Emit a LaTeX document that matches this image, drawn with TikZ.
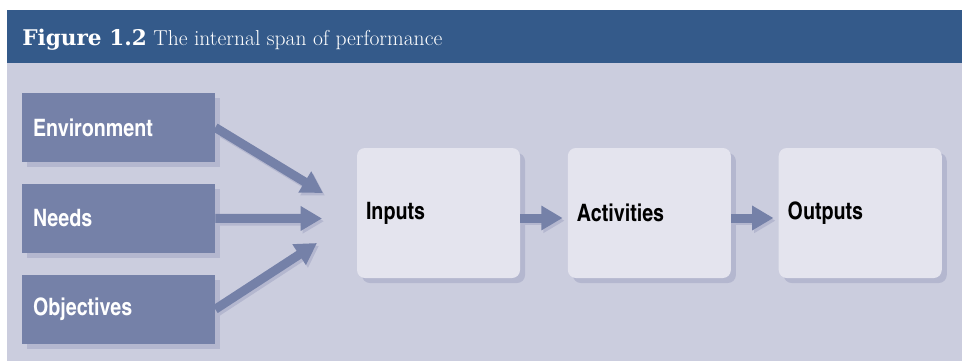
\documentclass[tikz,border=0pt]{standalone}
\usepackage{fontspec}
\newfontfamily\cnfont{texgyreheroscn}[Extension=.otf,UprightFont=*-regular,BoldFont=*-bold]
\newfontfamily\slabfont{DejaVu Serif}
\usetikzlibrary{positioning,arrows.meta,shadows}
\definecolor{headblue}{HTML}{345A8A}
\definecolor{panel}{HTML}{CBCDDE}
\definecolor{slate}{HTML}{7581A8}
\definecolor{shadowgray}{HTML}{B4B7CF}
\definecolor{pale}{HTML}{E4E4EE}
\tikzset{
  boxshadow/.style={drop shadow={shadow xshift=3.75pt,shadow yshift=-3.75pt,fill=shadowgray,opacity=1}},
  source/.style={boxshadow,fill=slate,text=white,inner xsep=8.25pt,inner ysep=0pt,
    text width=128.25pt,minimum height=51.75pt,align=left,font=\cnfont\bfseries\fontsize{18}{20}\selectfont},
  stage/.style={boxshadow,fill=pale,rounded corners=6pt,inner xsep=6.75pt,inner ysep=0pt,
    text width=108.75pt,minimum height=97.5pt,align=left,font=\cnfont\bfseries\fontsize{18}{20}\selectfont},
  fat/.style={line width=6.75pt,-{Triangle[length=16pt,width=17.5pt]}}
}
\begin{document}
\begin{tikzpicture}[x=0.75pt,y=-0.75pt,node distance=16pt and 35.5pt]
\useasboundingbox (0,0) rectangle (962,361);
\fill[headblue] (7,10) rectangle (962,63);
\fill[panel] (7,63) rectangle (962,361);
\node[anchor=base west,text=white,inner sep=0pt,font=\fontsize{16.2}{19}\selectfont] (title) at (22,45)
  {{\slabfont\bfseries Figure 1.2} The internal span of performance};

\node[source] (env) at (118.5,127.5) {Environment};
\node[source,below=of env] (needs) {Needs};
\node[source,below=of needs] (obj) {Objectives};

\node[stage] (inputs) at (438.5,213) {Inputs};
\node[stage,right=of inputs] (activities) {Activities};
\node[stage,right=of activities] (outputs) {Outputs};

\coordinate (tipA) at (323,193);
\coordinate (tipB) at (322,218.5);
\coordinate (tipC) at (317,243);

\foreach \s/\t/\g/\y in {env.east/tipA/0/0,needs.east/tipB/0/0,obj.east/tipC/0/0,
    inputs.east/activities.west/3.75/-3.75,activities.east/outputs.west/3.75/-3.75}{
  \draw[fat,shadowgray,shorten >=\g pt,transform canvas={shift={(1.5pt,-2pt)}}] ([yshift=\y pt]\s) -- ([yshift=\y pt]\t);
  \draw[fat,slate,shorten >=\g pt] ([yshift=\y pt]\s) -- ([yshift=\y pt]\t);
}
\end{tikzpicture}
\end{document}
